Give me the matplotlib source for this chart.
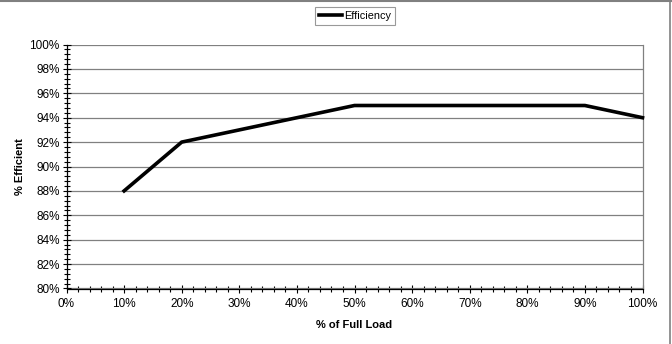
import matplotlib
matplotlib.use("Agg")
import matplotlib.pyplot as plt
from matplotlib.ticker import MultipleLocator, FuncFormatter
from matplotlib.lines import Line2D

plt.rcParams['font.family'] = ['Liberation Sans', 'DejaVu Sans']

load = [10, 20, 30, 40, 50, 60, 70, 80, 90, 100]
efficiency = [88, 92, 93, 94, 95, 95, 95, 95, 95, 94]
series_name = "Efficiency"

fig = plt.figure(figsize=(6.72, 3.44), dpi=100)
ax = fig.add_axes([66.5/672, 1-288.5/344, (642.5-66.5)/672, (288.5-44.5)/344])

ax.plot(load, efficiency, color='black', lw=2.6, solid_joinstyle='miter', zorder=3, clip_on=False)

ax.set_xlim(0, 100)
ax.set_ylim(80, 100)
ax.xaxis.set_major_locator(MultipleLocator(10))
ax.xaxis.set_minor_locator(MultipleLocator(2))
ax.yaxis.set_major_locator(MultipleLocator(2))
ax.yaxis.set_minor_locator(MultipleLocator(0.4))
pct = FuncFormatter(lambda v, p: f"{v:.0f}%")
ax.xaxis.set_major_formatter(pct)
ax.yaxis.set_major_formatter(pct)

ax.grid(axis='y', which='major', color='#808080', lw=0.9)
ax.set_axisbelow(True)
ax.spines['top'].set_visible(False)
ax.spines['right'].set_color('#808080')
ax.spines['right'].set_linewidth(0.9)
ax.spines['left'].set_color('black')
ax.spines['bottom'].set_color('black')
ax.spines['left'].set_linewidth(0.9)
ax.spines['bottom'].set_linewidth(0.9)

ax.tick_params(axis='both', which='both', direction='inout', color='black', width=0.8)
ax.tick_params(axis='both', which='major', length=6, labelsize=8.5, pad=2)
ax.tick_params(axis='both', which='minor', length=5)
ax.tick_params(axis='x', pad=4)

ax.set_xlabel("% of Full Load", fontsize=8, fontweight='bold', labelpad=7)
ax.set_ylabel("% Efficient", fontsize=8, fontweight='bold', labelpad=3)

handle = Line2D([], [], color='black', lw=2.6)
leg = fig.legend([handle], [series_name], loc='center', bbox_to_anchor=(355/672, 1-16/344),
                 fontsize=7.8, frameon=True, fancybox=False, edgecolor='#808080',
                 handlelength=2.2, handletextpad=0.2, borderpad=0.35, borderaxespad=0)
leg.get_frame().set_linewidth(0.8)

# outer border (top and right visible)
fig.add_artist(Line2D([0, 1], [1-1/344, 1-1/344], transform=fig.transFigure, color='#808080', lw=1.5))
fig.add_artist(Line2D([669.5/672, 669.5/672], [0, 1], transform=fig.transFigure, color='#808080', lw=1.2))

fig.savefig("out.png", dpi=100)
